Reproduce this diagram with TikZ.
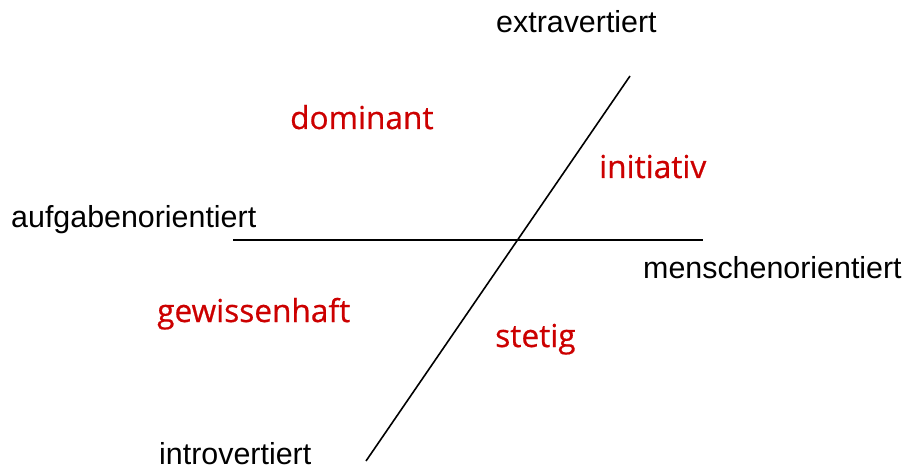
\documentclass[tikz,border=0pt]{standalone}
\usepackage{fontspec}
\setmainfont{Liberation Sans}
\newfontfamily\redfont[FakeBold=0.6]{Open Sans}
\definecolor{labelred}{RGB}{204,0,0}
\begin{document}
\begin{tikzpicture}[x=1pt,y=-1pt,
  axislabel/.style={anchor=base west,inner sep=0pt,font=\fontsize{30.4}{36}\selectfont},
  typelabel/.style={anchor=base west,inner sep=0pt,text=labelred,font=\redfont\fontsize{31.6}{37}\selectfont},
  axis/.style={line width=1.6pt,black}]
\useasboundingbox (0,0) rectangle (905,468);
\coordinate (hl) at (233,240);
\coordinate (hr) at (703,240);
\coordinate (dt) at (630,76);
\coordinate (db) at (366,461);
\draw[axis] (hl) -- (hr);
\draw[axis] (dt) -- (db);
\node[axislabel] (extra) at (496,33) {extravertiert};
\node[axislabel] (aufg) at (11,227) {aufgabenorientiert};
\node[axislabel] (mensch) at (643,278) {menschenorientiert};
\node[axislabel] (intro) at (159,464) {introvertiert};
\node[typelabel] (dom) at (290,129) {dominant};
\node[typelabel] (init) at (599,178) {initiativ};
\node[typelabel] (gew) at (157,322) {gewissenhaft};
\node[typelabel] (stet) at (495,347) {stetig};
\end{tikzpicture}
\end{document}
